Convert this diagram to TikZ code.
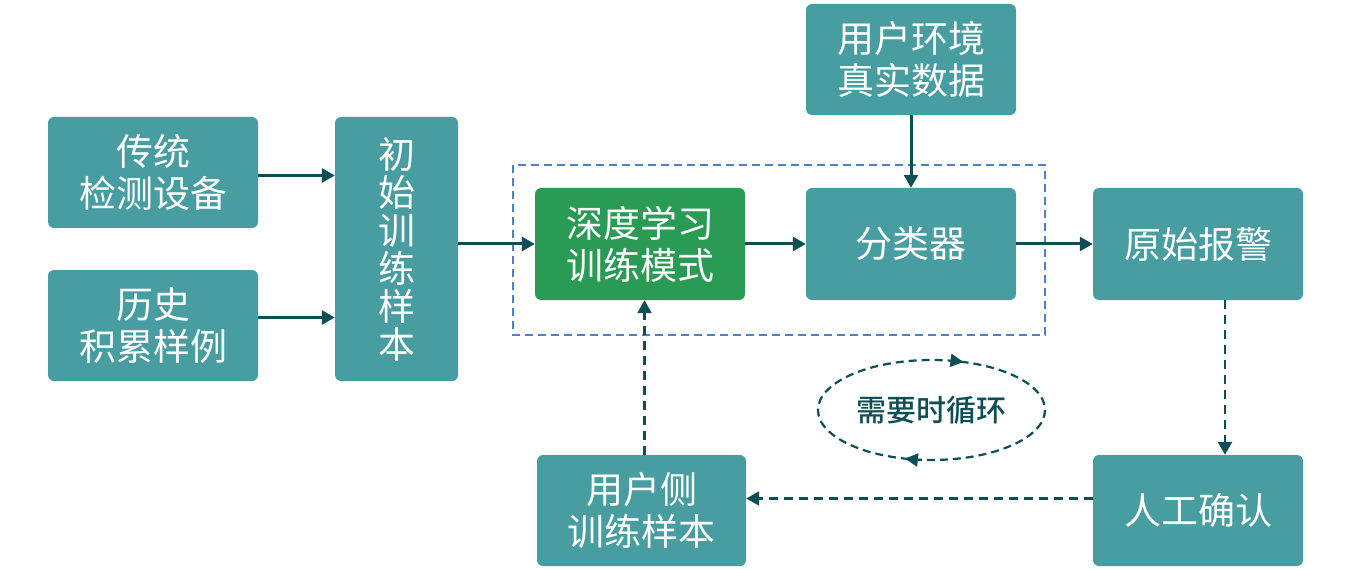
\documentclass[tikz,border=0pt]{standalone}
\usepackage{fontspec}
\setmainfont{Noto Sans CJK SC}
\newfontfamily\loopfont{Noto Sans CJK SC Medium}
\usetikzlibrary{arrows.meta,decorations.markings}
\definecolor{boxteal}{HTML}{479DA0}
\definecolor{boxgreen}{HTML}{299B55}
\definecolor{linedark}{HTML}{0E4F55}
\definecolor{frameblue}{HTML}{4A80CC}

\begin{document}
\begin{tikzpicture}[x=1pt,y=-1pt,
  box/.style={fill=boxteal, rounded corners=6pt, text=white, align=center, inner sep=0pt,
    minimum width=210pt, minimum height=111pt, font=\fontsize{37}{42}\selectfont},
  flow/.style={draw=linedark, line width=3pt, -{Triangle[length=13pt,width=14pt]}},
  back/.style={flow, line width=2.5pt, dash pattern=on 9pt off 6pt}]
\useasboundingbox (0,0) rectangle (1364,569);
% dashed frame round the model
\draw[frameblue, line width=2pt, dash pattern=on 8pt off 5pt] (513,165) rectangle (1045,335);
\node[box] (trad) at (153,172.5) {传统\\检测设备};
\node[box] (hist) at (153,325.5) {历史\\积累样例};
\node[box, minimum width=123pt, minimum height=264pt, font=\fontsize{37}{38}\selectfont] (init) at (396.5,249) {初\\始\\训\\练\\样\\本};
\node[box, fill=boxgreen, minimum height=112pt] (deep) at (640,244) {深度学习\\训练模式};
\node[box, minimum height=112pt] (cls) at (911,244) {分类器};
\node[box] (env) at (911,59.5) {用户环境\\真实数据};
\node[box, minimum height=112pt] (alarm) at (1198,244) {原始报警};
\node[box] (confirm) at (1198,510.5) {人工确认};
\node[box, minimum width=209pt] (user) at (641.5,510.5) {用户侧\\训练样本};
% loop
\draw[linedark, line width=2.2pt, dash pattern=on 8pt off 5pt,
  decoration={markings,
    mark=at position 0.30 with {\arrow{Triangle[length=13pt,width=13pt]}},
    mark=at position 0.81 with {\arrow{Triangle[length=13pt,width=13pt]}}},
  postaction={decorate}] (931.5,410) ellipse [x radius=113.5, y radius=50];
\node[font=\loopfont\fontsize{30}{36}\selectfont, text=linedark] (loop) at (931.5,410) {需要时循环};
% connectors
\draw[flow] ([yshift=-3pt]trad.east) -- ([yshift=-3pt]trad.east -| init.west);
\draw[flow] ([yshift=8pt]hist.east) -- ([yshift=8pt]hist.east -| init.west);
\draw[flow] (deep.west -| init.east) -- (deep.west);
\draw[flow] (deep) -- (cls);
\draw[flow] (cls.east) -- (cls.east -| alarm.west);
\draw[flow] (env) -- (cls);
\draw[back] ([xshift=27pt]alarm.south) -- ([xshift=27pt]alarm.south |- confirm.north);
\draw[back] ([yshift=12pt]confirm.west) -- ([yshift=12pt]confirm.west -| user.east);
\draw[back] ([xshift=3pt]user.north) -- ([xshift=3pt]user.north |- deep.south);
\end{tikzpicture}
\end{document}
